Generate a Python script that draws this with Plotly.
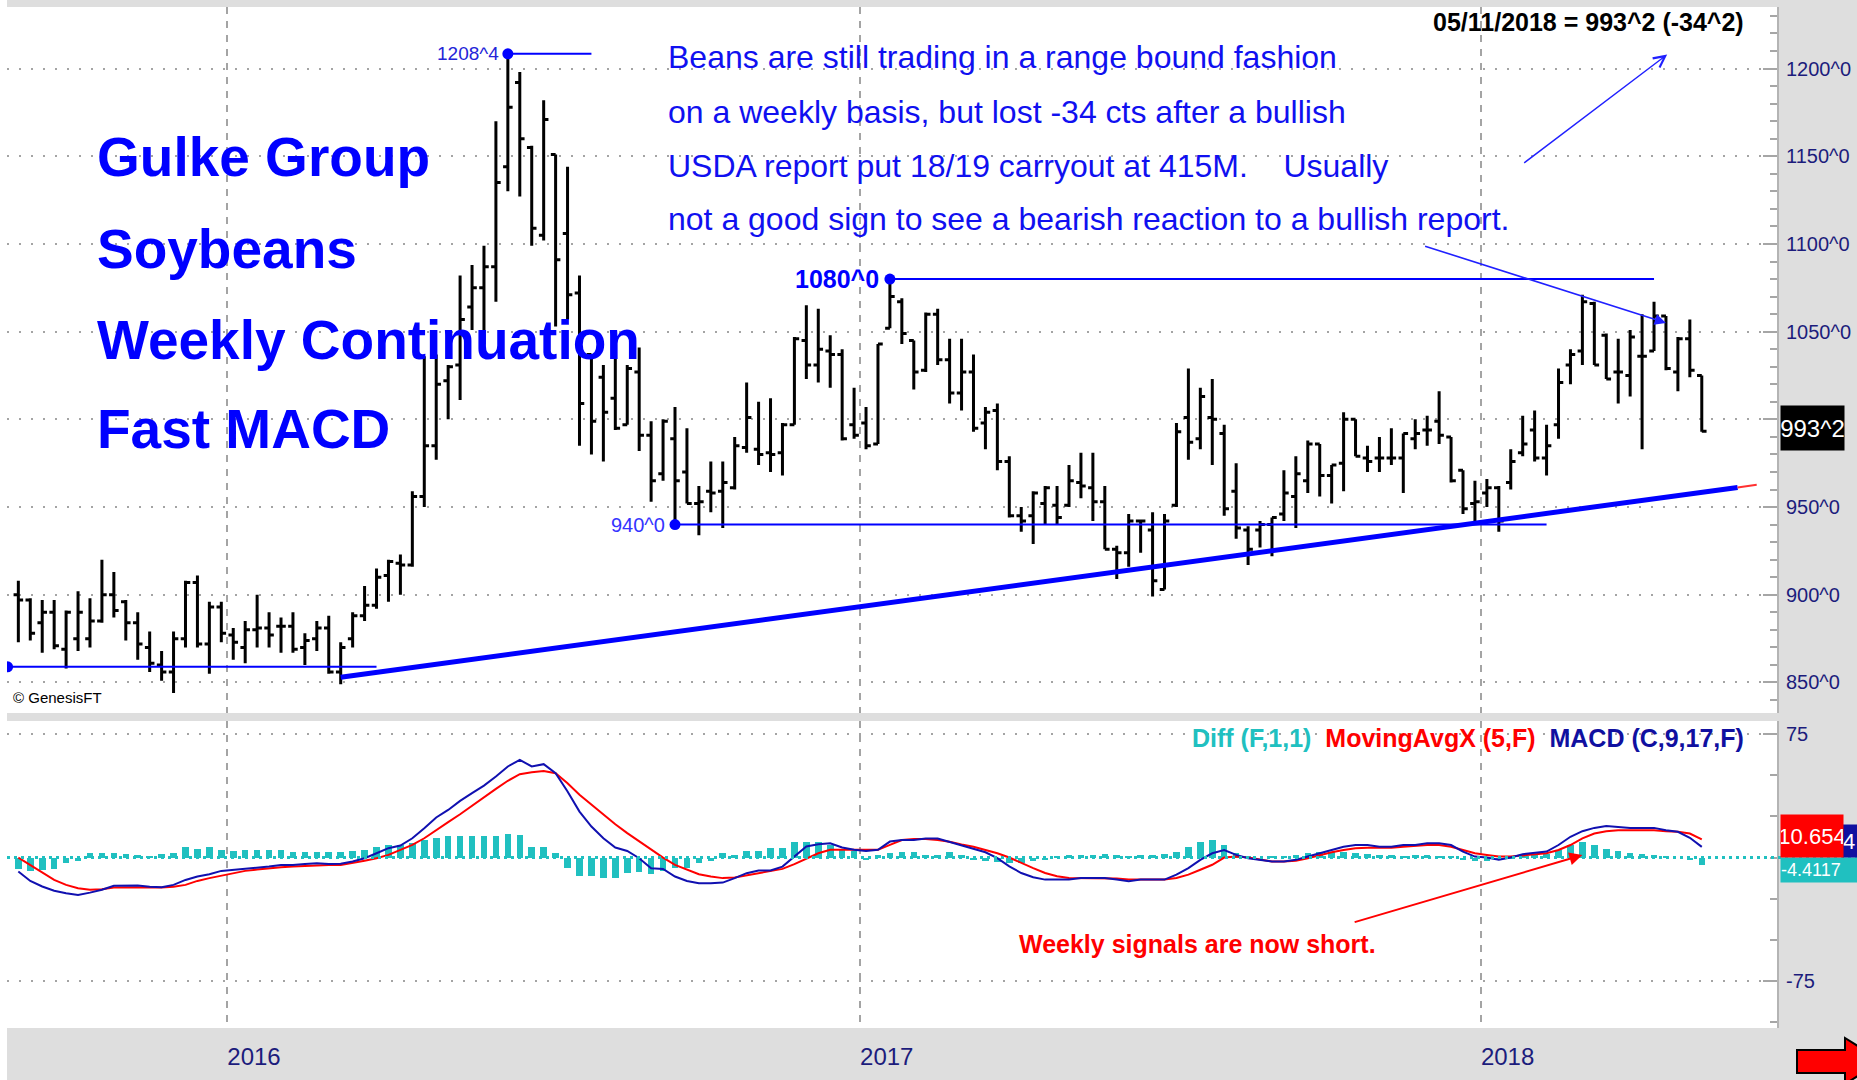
import plotly.graph_objects as go
import pandas as pd

# ---------------- DATA ----------------
week_ending = pd.date_range("2015-08-28", periods=142, freq="7D")

opens = [900, 897, 884, 890, 869, 875, 875, 885, 900, 896, 884, 870, 860, 856, 875, 907, 872, 893, 877, 870,
         880, 881, 882, 882, 870, 875, 881, 856, 875, 888, 894, 911, 918, 917, 956, 985, 1022, 1031, 1064, 1075,
         1087, 1144, 1192, 1155, 1105, 1151, 1106, 1072, 1037, 1024, 1012, 997, 1027, 991, 969, 989, 970, 952, 959, 959,
         961, 984, 983, 981, 981, 997, 1045, 1031, 1039, 1037, 997, 998, 986, 1052, 1067, 1045, 1028, 1060, 1034, 1015,
         1027, 998, 1005, 976, 945, 945, 952, 951, 951, 964, 961, 953, 926, 924, 942, 937, 903, 951, 1001, 989,
         1001, 992, 959, 937, 937, 940, 946, 956, 965, 986, 968, 975, 1000, 978, 978, 978, 978, 989, 994, 999,
         990, 971, 952, 958, 961, 964, 981, 994, 978, 997, 1031, 1039, 1066, 1048, 1027, 1025, 1036, 1039, 1059, 1027,
         1046, 1025]
highs = [908, 898, 897, 897, 891, 902, 898, 920, 913, 897, 890, 879, 868, 879, 908, 911, 896, 896, 881, 885,
         900, 890, 887, 890, 878, 885, 888, 873, 890, 905, 915, 920, 923, 959, 1036, 1037, 1031, 1082, 1088, 1099,
         1170, 1208.4, 1198, 1156, 1182, 1151, 1144, 1082, 1037, 1031, 1043, 1031, 1041, 999, 1000, 1007, 995, 962, 976, 976,
         990, 1021, 1010, 1012, 998, 1047, 1065, 1063, 1048, 1040, 1018, 1007, 1043, 1080, 1069, 1045, 1061, 1063, 1046, 1046,
         1037, 1007, 1009, 979, 950, 959, 962, 962, 974, 981, 981, 962, 928, 946, 942, 947, 946, 998, 1029, 1018,
         1023, 997, 975, 939, 942, 944, 971, 979, 988, 986, 974, 1004, 1000, 985, 990, 995, 992, 1000, 1002, 1016,
         990, 971, 965, 966, 962, 983, 1002, 1005, 997, 1029, 1040, 1071, 1067, 1049, 1046, 1051, 1060, 1067, 1059, 1047,
         1057, 1025]
lows = [873, 874, 867, 869, 858, 868, 870, 884, 887, 874, 863, 856, 851, 844, 870, 870, 855, 873, 863, 861,
        870, 870, 867, 867, 860, 868, 855, 849, 870, 885, 892, 896, 900, 916, 950, 977, 1000, 1011, 1051, 1043,
        1067, 1130, 1127, 1099, 1102, 1053, 1057, 985, 980, 976, 994, 997, 982, 953, 965, 940, 952, 934, 947, 938,
        960, 981, 974, 970, 968, 997, 1023, 1021, 1018, 988, 989, 983, 986, 1052, 1043, 1017, 1027, 1031, 1009, 1005,
        993, 983, 971, 944, 936, 929, 940, 940, 950, 955, 942, 926, 909, 916, 924, 899, 903, 950, 977, 983,
        974, 945, 932, 917, 927, 922, 942, 938, 958, 956, 952, 959, 979, 970, 970, 974, 958, 983, 985, 986,
        964, 946, 941, 950, 936, 960, 979, 976, 968, 989, 1020, 1031, 1031, 1023, 1009, 1013, 983, 1039, 1028, 1016,
        1024, 993]
closes = [897, 878, 890, 871, 890, 890, 885, 900, 891, 884, 872, 861, 856, 875, 907, 872, 893, 878, 873, 880,
          881, 877, 882, 869, 874, 881, 856, 870, 888, 894, 910, 919, 917, 956, 985, 1020, 1030, 1057, 1075, 1087,
          1135, 1178, 1160, 1109, 1171, 1091, 1071, 1009, 999, 1004, 995, 1029, 991, 965, 999, 965, 952, 953, 958, 964,
          985, 1001, 980, 980, 997, 1046, 1031, 1040, 1037, 989, 991, 985, 1043, 1070, 1049, 1027, 1060, 1034, 1015, 1027,
          995, 1004, 976, 945, 942, 958, 961, 944, 965, 962, 953, 926, 924, 942, 942, 908, 942, 993, 987, 1013,
          1000, 949, 938, 926, 940, 944, 958, 969, 986, 968, 974, 1000, 979, 976, 978, 978, 992, 992, 994, 991,
          965, 949, 953, 961, 942, 976, 986, 978, 985, 1021, 1037, 1067, 1031, 1023, 1027, 1047, 1036, 1059, 1029, 1046,
          1028, 993.25]

macd_line = [-8.5, -14.2, -17.6, -20.2, -21.7, -22.7, -21.3, -19.6, -17.2, -17, -17, -17.8, -18, -16.6, -13.6, -11.5,
             -10.1, -8.1, -7.5, -6.5, -6.1, -5.5, -4.5, -4.5, -4, -3.4, -4, -3.8, -2.4, -0.4, 2.6, 5.7, 7.3, 11.7,
             17.8, 24.3, 28.9, 34.4, 39.1, 43.7, 49.2, 55.3, 59.3, 55.3, 56.7, 51.2, 40.1, 27.9, 18.8, 11.7, 6.1, 4,
             -0.4, -6.5, -6.9, -11.5, -14.2, -15.6, -15.6, -15.2, -12.5, -9.5, -7.9, -7.9, -5.5, 0.6, 6.7, 8.1, 8.7,
             6.1, 4.7, 4, 4.7, 9.7,
             10.6, 10.6, 11.6, 11.6, 9.6, 7.6, 5.2, 3.2, -0.4, -5.4, -9.4, -12, -13.4, -13.4, -13.4, -12.4, -12.4,
             -12.4, -13.4, -14.4, -13.4, -13.4, -13.4, -10.4, -6.4, -1.4, 2.6, 4.6, 1.6, -0.4, -1.4, -2.4, -2.4, -1.4,
             0.6, 2.6, 4.6, 6.6, 7.6, 7.6, 6.6, 6.6, 7.6, 7.6, 8.6, 8.6, 7.6, 3.6, 0.6, 0, -1.4, 0, 2, 2.6, 3.6, 7.6,
             12.6, 16, 18, 19.2, 18.6, 18, 18, 18, 16.6, 15.6, 12, 6.5]
signal_line = [0, -4.5, -9.5, -13.6, -16.6, -18.6, -19.6, -19.2, -18.2, -18, -18, -18, -18.2, -17.8, -16.6, -14.2,
               -12.5, -10.9, -9.5, -8.1, -7.3, -6.5, -5.9, -5.5, -5.1, -4.9, -4.5, -4.5, -3.4, -2, -0.4, 1.6, 4.7,
               7.7, 11.7, 16.8, 21.5, 26.3, 31.6, 36.4, 41.7, 46.6, 50.6, 51.8, 52.6, 51.2, 45.1, 38.1, 32, 25.9,
               20.2, 14.8, 9.7, 4.7, 0, -4.5, -7.5, -10.1, -11.5, -12.5, -12.1, -10.9, -9.5, -8.1, -6.9, -4, -0.8,
               2.6, 4.7, 4.7, 4.3, 4.3, 4.7, 7.7,
               10.6, 11.2, 11.2, 10.6, 9.6, 8, 6.6, 4.6, 2.6, 0, -3.4, -6.4, -9.4, -11.4, -12.4, -12.4, -12.4, -12.4,
               -12.8, -13.4, -13.4, -13.4, -13.4, -12.4, -10.4, -7.4, -4.4, 0, 0.6, 0, -1.4, -2.4, -2.4, -2, -0.4,
               1.6, 3.2, 4.6, 5.6, 6, 6, 6, 6.6, 7.2, 7.6, 7.6, 6.6, 4.6, 2.6, 1.6, 0.6, 0.6, 1.2, 1.6, 2.6, 4.6,
               7.6, 11.6, 14.6, 16, 16.6, 16.6, 16.6, 16.6, 16, 15.6, 14.6, 11]
diff_hist = [-6.9, -8.1, -7.5, -6.9, -3.4, -2.4, 2.6, 3, 2.6, 2, 1.6, 1, 2.4, 2.6, 6.1, 5.1, 6.1, 4.7, 4, 4.7,
             4.7, 4.7, 4.7, 3.6, 3.2, 3.6, 3.6, 3.2, 4, 4.7, 6.1, 7.7, 7.7, 8.7, 10.7, 12.1, 12.8, 12.8, 12.8, 12.8,
             12.8, 14.2, 13.4, 6.7, 6.1, 2.6, -6.5, -11.5, -11.5, -12.5, -12.5, -9.5, -8.5, -10.1, -8.1, -6.5, -6.5,
             -3.4, -2, 2.6, 1.6, 4, 4, 5.7, 5.7, 9.3, 9.3, 9.3, 7.7, 4.7, 4, -1.4, 1.6, 2.6,
             3.6, 3.2, 1.6, 1.6, 3.2, 1.6, -1.4, -2.4, -2.8, -3.4, -3.4, -2.4, -1.4, 0.6, 1.6, 1.6, 1.6, 2, 1.6, 1.2,
             1.6, 1.6, 2, 3.2, 6.6, 9.2, 10.6, 7.6, 2.6, 0.6, 0, 0.6, 1.2, 1.6, 2.6, 3.2, 3.2, 3.2, 2.6, 2, 1.6, 1.6,
             1.2, 1.6, 1.6, 1.2, 0.6, -1.4, -2.4, -2, -1.4, -0.4, 0.6, 1.6, 2, 4.6, 7.6, 9.2, 7.6, 5.2, 4, 2.6, 2,
             1.6, 1.2, 0, -1.4, -4.4]

price_ticks = [850, 900, 950, 1000, 1050, 1100, 1150, 1200]
macd_ticks = [75, -75]

# drawn levels
high_level = 1208.4      # 1208^4
mid_level = 1080.0       # 1080^0
low_level = 940.0        # 940^0
base_level = 858.9       # horizontal support on the left
trend_start = 853.0      # rising trend line start price
trend_end = 961.2        # rising trend line end price
last_close_label = "993^2"
signal_value_label = "10.654"
macd_value_label = "4"
diff_value_label = "-4.4117"

# ---------------- derived positions ----------------
bar_x = list(range(len(week_ending)))
year_starts = [i for i in range(1, len(week_ending)) if week_ending[i].year != week_ending[i - 1].year]
year_bounds = [i - 0.5 for i in year_starts]
year_names = [str(week_ending[i].year) for i in year_starts]
hover_dates = [d.strftime("%m/%d/%Y") for d in week_ending]
# the 1000 label sits under the last-price flag in the reference
price_tick_text = ["" if v == 1000 else f"{v}^0" for v in price_ticks]

W, H = 1857, 1080
ML, MR, MT, MB = 7, 80, 7, 52
PW, PH = W - ML - MR, H - MT - MB


def px(xp):
    return (xp - ML) / PW


def py(yp):
    return (H - MB - yp) / PH


FONT = "Liberation Sans, Arial, sans-serif"
BLUE = "#0000ff"
NAVY = "#1c1c7c"
CYAN = "#20c0c0"
GRID = "#a4a4a4"

fig = go.Figure()

fig.add_trace(go.Ohlc(
    x=bar_x, open=opens, high=highs, low=lows, close=closes,
    increasing=dict(line=dict(color="black", width=3)),
    decreasing=dict(line=dict(color="black", width=3)),
    tickwidth=0.4, text=hover_dates, xaxis="x", yaxis="y", showlegend=False))

hi_i = highs.index(max(highs))
lo_i = lows.index(low_level)
mid_i = highs.index(mid_level)
lines = [
    ([hi_i, 48], [high_level, high_level], 2),
    ([mid_i, 137], [mid_level, mid_level], 2),
    ([lo_i, 128], [low_level, low_level], 2),
    ([-0.9, 30], [base_level, base_level], 2),
    ([27, 144], [trend_start, trend_end], 5),
]
for xs, ys, w in lines:
    fig.add_trace(go.Scatter(x=xs, y=ys, mode="lines", line=dict(color=BLUE, width=w),
                             xaxis="x", yaxis="y", showlegend=False, hoverinfo="skip"))
fig.add_trace(go.Scatter(x=[144, 145.6], y=[trend_end, trend_end + 1.5], mode="lines",
                         line=dict(color="#ff3030", width=2), xaxis="x", yaxis="y",
                         showlegend=False, hoverinfo="skip"))
fig.add_trace(go.Scatter(x=[hi_i, mid_i, lo_i, -0.9], y=[high_level, mid_level, low_level, base_level],
                         mode="markers", marker=dict(color=BLUE, size=11), xaxis="x", yaxis="y",
                         showlegend=False, hoverinfo="skip"))

fig.add_trace(go.Bar(x=bar_x, y=diff_hist, width=0.55, marker=dict(color=CYAN, line=dict(width=0)),
                     xaxis="x2", yaxis="y2", showlegend=False))
fig.add_trace(go.Scatter(x=bar_x, y=signal_line, mode="lines", line=dict(color="#ff0000", width=2),
                         xaxis="x2", yaxis="y2", showlegend=False))
fig.add_trace(go.Scatter(x=bar_x, y=macd_line, mode="lines", line=dict(color="#1010b0", width=2),
                         xaxis="x2", yaxis="y2", showlegend=False))

xrange = [-0.95, 147.3]
common_x = dict(range=xrange, tickmode="array", tickvals=year_bounds, showgrid=True, gridcolor=GRID,
                griddash="7px,7px", gridwidth=1.5, zeroline=False, showline=False, ticks="", automargin=False)
common_y = dict(side="right", ticks="inside", ticklen=14, tickwidth=2, tickcolor="#a6a6a6",
                showgrid=True, gridcolor=GRID, griddash="2px,10px", gridwidth=1.5,
                showline=True, linecolor="#b4b4b4", linewidth=2, zeroline=False, automargin=False,
                ticklabelstandoff=3, tickfont=dict(family=FONT, size=20, color=NAVY))
fig.update_layout(
    width=W, height=H,
    margin=dict(l=ML, r=MR, t=MT, b=MB, autoexpand=False),
    paper_bgcolor="#dedede", plot_bgcolor="white",
    bargap=0,
    xaxis=dict(domain=[0, 1], anchor="y", showticklabels=False, rangeslider=dict(visible=False), **common_x),
    xaxis2=dict(domain=[0, 1], anchor="y2", matches="x", ticktext=year_names, showticklabels=True,
                ticklabelposition="outside right", ticklabelstandoff=12,
                tickfont=dict(family=FONT, size=24, color=NAVY), **common_x),
    yaxis=dict(domain=[py(713), 1], anchor="x", range=[832.6, 1235.1],
               tickmode="array", tickvals=price_ticks, ticktext=price_tick_text,
               minor=dict(dtick=10, tick0=850, ticks="inside", ticklen=7, tickwidth=2, tickcolor="#a6a6a6",
                          showgrid=False),
               **common_y),
    yaxis2=dict(domain=[0, py(721)], anchor="x2", range=[-103.5, 82.9],
                tickmode="array", tickvals=macd_ticks, ticktext=[str(v) for v in macd_ticks],
                minor=dict(dtick=25, tick0=0, ticks="inside", ticklen=7, tickwidth=2, tickcolor="#a6a6a6",
                           showgrid=False),
                **common_y),
)


def pts(points):
    return "M " + " L ".join(f"{px(a):.5f},{py(b):.5f}" for a, b in points) + " Z"


shapes = [
    dict(type="rect", xref="paper", yref="paper", x0=px(0), x1=px(ML), y0=py(H), y1=py(0),
         fillcolor="white", line=dict(width=0), layer="below"),
    dict(type="line", xref="paper", yref="y2", x0=0, x1=px(W), y0=0, y1=0,
         line=dict(color=CYAN, width=3, dash="3px,4px"), layer="above"),
    dict(type="path", xref="paper", yref="paper",
         path=pts([(1797, 1050), (1845, 1050), (1845, 1038), (1882, 1061), (1845, 1084), (1845, 1073), (1797, 1073)]),
         fillcolor="#ff0000", line=dict(color="black", width=2)),
]
fig.update_layout(shapes=shapes)

ann = []
for txt, yc in [("Gulke Group", 157), ("Soybeans", 249), ("Weekly Continuation", 340), ("Fast MACD", 429)]:
    ann.append(dict(xref="paper", yref="paper", x=px(95), y=py(yc), xanchor="left", yanchor="middle",
                    text=f"<b>{txt}</b>", showarrow=False, font=dict(family=FONT, size=55, color=BLUE)))
for txt, yc in [("Beans are still trading in a range bound fashion", 57),
                ("on a weekly basis, but lost -34 cts after a bullish", 112),
                ("USDA report put 18/19 carryout at 415M.\u00a0\u00a0\u00a0 Usually", 166),
                ("not a good sign to see a bearish reaction to a bullish report.", 219)]:
    ann.append(dict(xref="paper", yref="paper", x=px(666), y=py(yc), xanchor="left", yanchor="middle",
                    text=txt, showarrow=False, font=dict(family=FONT, size=32, color="#1010f0")))
ann += [
    dict(xref="paper", yref="paper", x=px(1746), y=py(22), xanchor="right", yanchor="middle",
         text="<b>05/11/2018 = 993^2 (-34^2)</b>", showarrow=False, font=dict(family=FONT, size=25, color="black")),
    dict(xref="x", yref="y", x=hi_i, y=high_level, xanchor="right", yanchor="middle", xshift=-7,
         text="1208^4", showarrow=False, font=dict(family=FONT, size=19, color="#2424d8")),
    dict(xref="x", yref="y", x=mid_i, y=mid_level, xanchor="right", yanchor="middle", xshift=-9,
         text="<b>1080^0</b>", showarrow=False, font=dict(family=FONT, size=25, color=BLUE)),
    dict(xref="x", yref="y", x=lo_i, y=low_level, xanchor="right", yanchor="middle", xshift=-8,
         text="940^0", showarrow=False, font=dict(family=FONT, size=20, color="#3434ff")),
    dict(xref="paper", yref="paper", x=px(11), y=py(697), xanchor="left", yanchor="middle",
         text="\u00a9 GenesisFT", showarrow=False, font=dict(family=FONT, size=15, color="black")),
    dict(xref="paper", yref="paper", x=px(1746), y=py(738), xanchor="right", yanchor="middle",
         text=(f"<b><span style='color:{CYAN}'>Diff (F,1,1)</span>\u00a0\u00a0"
               "<span style='color:#ff0000'>MovingAvgX (5,F)</span>\u00a0\u00a0"
               "<span style='color:#1010a0'>MACD (C,9,17,F)</span></b>"),
         showarrow=False, font=dict(family=FONT, size=25)),
    dict(xref="paper", yref="paper", x=px(1197), y=py(944), xanchor="center", yanchor="middle",
         text="<b>Weekly signals are now short.</b>", showarrow=False,
         font=dict(family=FONT, size=25, color="#ff0000")),
    # arrows
    dict(xref="x", yref="y", axref="x", ayref="y", x=138, y=1055, ax=117.7, ay=1099, text="",
         showarrow=True, arrowhead=2, arrowsize=1.4, arrowwidth=1.6, arrowcolor="#2020ff"),
    dict(xref="x", yref="y", axref="x", ayref="y", x=138.1, y=1208, ax=126, ay=1145.6, text="",
         showarrow=True, arrowhead=5, arrowsize=1.6, arrowwidth=1.4, arrowcolor="#2020ff"),
    dict(xref="x2", yref="y2", axref="x2", ayref="y2", x=131, y=1.5, ax=111.8, ay=-39.5, text="",
         showarrow=True, arrowhead=2, arrowsize=1.3, arrowwidth=2, arrowcolor="#ff0000"),
    # value flags on the right axis
    dict(xref="paper", yref="paper", x=px(1780), y=py(428), xanchor="left", yanchor="middle",
         text=last_close_label, showarrow=False, bgcolor="black", width=63, height=44, borderpad=0,
         font=dict(family=FONT, size=24, color="white")),
    dict(xref="paper", yref="paper", x=px(1780), y=py(870), xanchor="left", yanchor="middle",
         text=diff_value_label, showarrow=False, bgcolor=CYAN, width=77, height=24, borderpad=0, align="left",
         font=dict(family=FONT, size=18, color="white")),
    dict(xref="paper", yref="paper", x=px(1842), y=py(841), xanchor="left", yanchor="middle",
         text=macd_value_label, showarrow=False, bgcolor="#1010a0", width=15, height=32, borderpad=0,
         align="left", font=dict(family=FONT, size=22, color="white")),
    dict(xref="paper", yref="paper", x=px(1780), y=py(836), xanchor="left", yanchor="middle",
         text=signal_value_label, showarrow=False, bgcolor="#ff0000", width=62, height=42, borderpad=0,
         font=dict(family=FONT, size=22, color="white")),
]
fig.update_layout(annotations=ann)

# place the figure flush with the page corner (no default body margin), no mode bar
fig.write_html("out.html", config={"displayModeBar": False},
               post_script="document.body.style.margin='0px';document.body.style.overflow='hidden';")
